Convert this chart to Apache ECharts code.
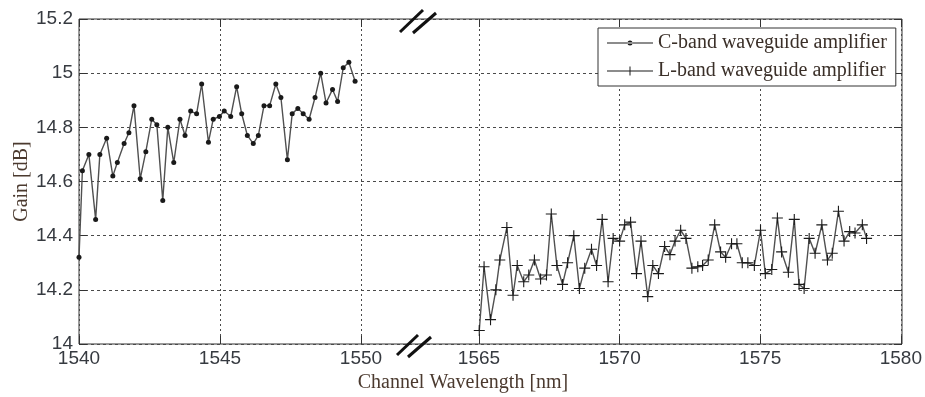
<!DOCTYPE html>
<html>
<head>
<meta charset="utf-8">
<script src="https://cdn.jsdelivr.net/npm/echarts@6/dist/echarts.min.js"></script>
<style>
html,body{margin:0;padding:0;background:#fff;}
#chart{width:925px;height:397px;}
</style>
</head>
<body>
<div id="chart"></div>
<script>
// ---- data ----
var cWavelength = [1540.00,1540.12,1540.35,1540.59,1540.74,1540.98,1541.20,1541.36,1541.60,1541.77,
  1541.95,1542.17,1542.37,1542.58,1542.76,1542.97,1543.15,1543.36,1543.58,1543.76,
  1543.96,1544.17,1544.35,1544.59,1544.76,1544.98,1545.15,1545.38,1545.59,1545.77,
  1545.97,1546.18,1546.36,1546.56,1546.76,1546.98,1547.16,1547.39,1547.56,1547.76,
  1547.95,1548.16,1548.37,1548.57,1548.76,1548.99,1549.17,1549.37,1549.57,1549.79];
var cGain = [14.32,14.64,14.70,14.46,14.70,14.76,14.62,14.67,14.74,14.78,
  14.88,14.61,14.71,14.83,14.81,14.53,14.80,14.67,14.83,14.77,
  14.86,14.85,14.96,14.745,14.83,14.84,14.86,14.84,14.95,14.85,
  14.77,14.74,14.77,14.88,14.88,14.96,14.91,14.68,14.85,14.87,
  14.85,14.83,14.91,15.00,14.89,14.94,14.895,15.02,15.04,14.97];
var lWavelength = [1565.01,1565.18,1565.41,1565.60,1565.74,1565.99,1566.21,1566.36,1566.59,1566.77,
  1566.97,1567.19,1567.40,1567.57,1567.77,1567.97,1568.15,1568.37,1568.57,1568.76,
  1569.00,1569.18,1569.38,1569.59,1569.77,1570.00,1570.18,1570.39,1570.60,1570.76,
  1571.00,1571.18,1571.38,1571.60,1571.79,1571.97,1572.17,1572.36,1572.57,1572.78,
  1572.95,1573.15,1573.38,1573.59,1573.77,1573.98,1574.17,1574.36,1574.56,1574.79,
  1575.01,1575.18,1575.41,1575.61,1575.76,1576.00,1576.21,1576.38,1576.56,1576.74,
  1576.95,1577.19,1577.39,1577.56,1577.78,1577.98,1578.18,1578.37,1578.63,1578.78];
var lGain = [14.05,14.285,14.09,14.20,14.31,14.43,14.18,14.29,14.23,14.255,
  14.31,14.24,14.255,14.48,14.29,14.22,14.30,14.40,14.205,14.28,
  14.35,14.29,14.46,14.23,14.39,14.38,14.44,14.45,14.26,14.38,
  14.175,14.29,14.26,14.36,14.33,14.38,14.42,14.39,14.28,14.285,
  14.29,14.31,14.44,14.34,14.32,14.37,14.37,14.30,14.30,14.29,
  14.42,14.26,14.275,14.465,14.34,14.265,14.46,14.22,14.205,14.39,
  14.335,14.44,14.31,14.335,14.49,14.38,14.415,14.41,14.44,14.39];
var seriesNames = ['C-band waveguide amplifier','L-band waveguide amplifier'];
var xRangeC = [1540, 1550];
var xRangeL = [1565, 1580];
var yRange = [14, 15.2];
var xTitle = 'Channel Wavelength [nm]';
var yTitle = 'Gain [dB]';

function pairs(xs, ys){ return xs.map(function(x,i){ return [x, ys[i]]; }); }
function plainNum(v){ return String(Math.round(v*10)/10); }

var tickColor = '#363a40';
var titleColor = '#4b3a2f';
var gridColor = '#4a4a4a';
var plusPath = 'path://M0,4.5H10V5.5H0Z M4.5,0H5.5V10H4.5Z';

var chart = echarts.init(document.getElementById('chart'), null, {renderer:'canvas'});

var commonTick = {show:true, inside:true, length:8, lineStyle:{color:'#333', width:1}};
var labelStyle = {color:tickColor, fontFamily:'Liberation Sans', fontSize:19, formatter:plainNum};

var option = {
  animation:false,
  backgroundColor:'#fff',
  grid:[
    {left:79, right:23, top:19, bottom:53, show:true, borderColor:'#333', borderWidth:1, backgroundColor:'transparent'},
    {left:79, width:282, top:19, height:325},
    {left:479, width:423, top:19, height:325}
  ],
  xAxis:[
    {gridIndex:0, type:'value', min:0, max:1, show:false},
    {gridIndex:1, type:'value', position:'bottom', min:xRangeC[0], max:xRangeC[1], interval:5,
      axisLine:{show:false}, axisTick:commonTick,
      axisLabel:Object.assign({show:true, margin:5, showMinLabel:true, showMaxLabel:true}, labelStyle),
      splitLine:{show:true, lineStyle:{color:gridColor, type:[2,3], width:1}}},
    {gridIndex:1, type:'value', position:'top', min:xRangeC[0], max:xRangeC[1], interval:5,
      axisLine:{show:false}, axisTick:commonTick, axisLabel:{show:false}, splitLine:{show:false}},
    {gridIndex:2, type:'value', position:'bottom', min:xRangeL[0], max:xRangeL[1], interval:5,
      axisLine:{show:false}, axisTick:commonTick,
      axisLabel:Object.assign({show:true, margin:5, showMinLabel:true, showMaxLabel:true}, labelStyle),
      splitLine:{show:true, lineStyle:{color:gridColor, type:[2,3], width:1}}},
    {gridIndex:2, type:'value', position:'top', min:xRangeL[0], max:xRangeL[1], interval:5,
      axisLine:{show:false}, axisTick:commonTick, axisLabel:{show:false}, splitLine:{show:false}}
  ],
  yAxis:[
    {gridIndex:0, type:'value', position:'left', min:yRange[0], max:yRange[1], interval:0.2,
      name:yTitle, nameLocation:'middle', nameGap:47, nameMoveOverlap:false,
      nameTextStyle:{color:titleColor, fontFamily:'Liberation Serif', fontSize:20},
      axisLine:{show:false}, axisTick:commonTick,
      axisLabel:Object.assign({show:true, margin:6, showMinLabel:true, showMaxLabel:true}, labelStyle),
      splitLine:{show:true, lineStyle:{color:gridColor, type:[3,3], width:1}}},
    {gridIndex:0, type:'value', position:'right', min:yRange[0], max:yRange[1], interval:0.2,
      axisLine:{show:false}, axisTick:commonTick, axisLabel:{show:false}, splitLine:{show:false}},
    {gridIndex:1, type:'value', min:yRange[0], max:yRange[1], show:false},
    {gridIndex:2, type:'value', min:yRange[0], max:yRange[1], show:false}
  ],
  legend:{
    orient:'vertical', left:598, top:28,
    itemWidth:46, itemHeight:12, itemGap:8,
    padding:[5,9,5,9],
    borderColor:'#333', borderWidth:1, backgroundColor:'#fff',
    selectedMode:false,
    textStyle:{color:'#3a2f28', fontFamily:'Liberation Serif', fontSize:20},
    data:[
      {name:seriesNames[0], icon:'path://M0,5.4H46V6.6H0Z M20.5,6a2.5,2.5 0 1 0 5,0a2.5,2.5 0 1 0 -5,0Z'},
      {name:seriesNames[1], icon:'path://M0,5.4H46V6.6H0Z M22.5,1.5H23.5V10.5H22.5Z'}
    ]
  },
  series:[
    {name:seriesNames[0], type:'line', xAxisIndex:1, yAxisIndex:2,
      data:pairs(cWavelength, cGain),
      symbol:'circle', symbolSize:5, showSymbol:true,
      lineStyle:{color:'#505050', width:1.4},
      itemStyle:{color:'#1a1a1a'}, z:5},
    {name:seriesNames[1], type:'line', xAxisIndex:3, yAxisIndex:3,
      data:pairs(lWavelength, lGain),
      symbol:plusPath, symbolSize:11, showSymbol:true,
      lineStyle:{color:'#505050', width:1.4},
      itemStyle:{color:'#1a1a1a'}, z:5}
  ],
  graphic:[
    {type:'text', x:463, y:383, z:10,
      style:{text:xTitle, fill:titleColor, fontFamily:'Liberation Serif', fontSize:20, align:'center', verticalAlign:'middle'}},
    {type:'line', z:10, shape:{x1:400, y1:32, x2:423, y2:10}, style:{stroke:'#111', lineWidth:3}},
    {type:'line', z:10, shape:{x1:413, y1:33, x2:436, y2:13}, style:{stroke:'#111', lineWidth:3}},
    {type:'line', z:10, shape:{x1:397, y1:355, x2:418, y2:335}, style:{stroke:'#111', lineWidth:3}},
    {type:'line', z:10, shape:{x1:408, y1:357, x2:431, y2:337}, style:{stroke:'#111', lineWidth:3}}
  ]
};
chart.setOption(option);
</script>
</body>
</html>
